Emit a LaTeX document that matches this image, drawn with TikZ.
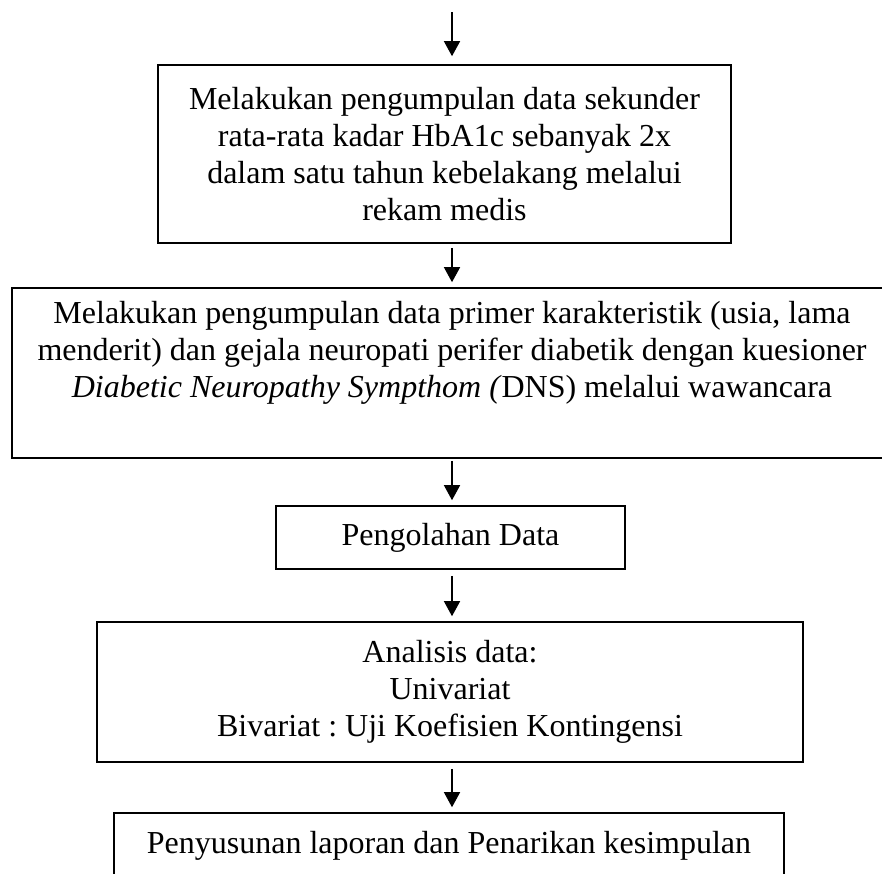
\documentclass[tikz,border=0pt]{standalone}
\usepackage{fontspec}
\setmainfont{Liberation Serif}
\frenchspacing
\usetikzlibrary{arrows.meta}
\usetikzlibrary{calc,positioning}

\begin{document}
\begin{tikzpicture}[x=1pt, y=-1pt,
    box/.style={draw, line width=0.8pt, inner sep=0pt, align=center,
      font=\fontsize{16}{18.5}\selectfont},
    flow/.style={line width=0.7pt, -{Triangle[length=7.5pt,width=8pt]},
      shorten <=2.5pt, shorten >=2.5pt}]
    \useasboundingbox (0,0) rectangle (441,436.5);
    \coordinate (top) at (226,6);
    \node[box, minimum width=286.5pt, minimum height=89pt] (sekunder) at (222.25,77) {
        Melakukan pengumpulan data sekunder\\
        rata-rata kadar HbA1c sebanyak 2x\\
        dalam satu tahun kebelakang melalui\\
        rekam medis
    };
    \node[box, minimum width=440pt, minimum height=85pt] (primer) at (226,186.5) {
        Melakukan pengumpulan data primer karakteristik (usia, lama\\
        menderit) dan gejala neuropati perifer diabetik dengan kuesioner\\
        \textit{Diabetic Neuropathy Sympthom (}DNS) melalui wawancara\\
        \strut
    };
    \node[box, minimum width=174.5pt, minimum height=31.5pt] (olah) at (225.25,268.75) {Pengolahan Data};
    \node[box, minimum width=353pt, minimum height=70pt] (analisis) at (225,346) {
        Analisis data:\\
        Univariat\\
        Bivariat : Uji Koefisien Kontingensi
    };
    \node[box, minimum width=335pt, minimum height=33pt] (laporan) at (224.5,423) {Penyusunan laporan dan Penarikan kesimpulan};
    \draw[flow, shorten <=0pt, shorten >=4pt] (top) -- (sekunder.north -| top);
    \draw[flow, shorten <=2pt] (sekunder.south -| top) -- (primer.north -| top);
    \draw[flow, shorten <=1pt] (primer.south -| top) -- (olah.north -| top);
    \draw[flow, shorten <=3pt] (olah.south -| top) -- (analisis.north -| top);
    \draw[flow, shorten <=3pt] (analisis.south -| top) -- (laporan.north -| top);
\end{tikzpicture}
\end{document}
